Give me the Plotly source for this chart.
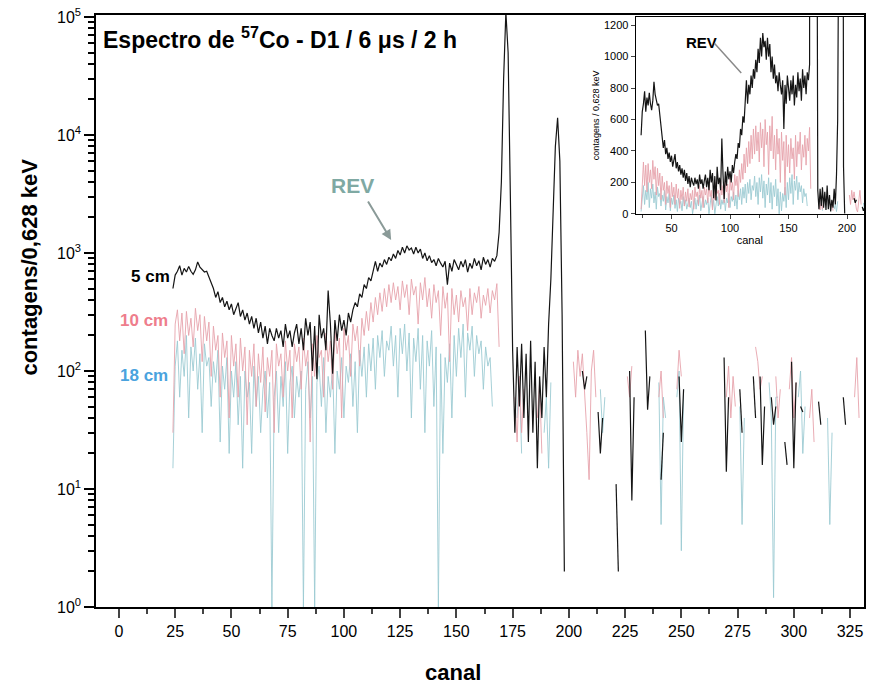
import plotly.graph_objects as go

N = None

# ---------------- data ----------------
# 5 cm, channels 24..168
black_start = 24
black_low = [500, 650, 700, 780, 650, 740, 690, 770, 700, 660, 720, 840, 760, 720, 690, 700,
             620, 560, 500, 420, 470, 380, 420, 350, 390, 330, 370, 300, 340, 380, 290, 330,
             270, 310, 250, 290, 230, 280, 210, 260, 190, 240, 170, 230, 200, 180, 230, 190,
             220, 160, 250, 190, 220, 160, 210, 250, 170, 230, 150, 280, 200, 260, 100, 240,
             85, 300, 190, 230, 150, 480, 250, 95, 270, 180, 300, 220,
             270, 200, 310, 260, 330, 380, 350, 450, 420, 540, 500, 620, 580, 720, 850, 700,
             820, 760, 880, 800, 920, 860, 980, 900, 1050, 960, 1120, 1000, 1150, 1060, 1100, 980,
             1120, 1000, 1080, 900, 1000, 860, 950, 830, 880, 780, 900, 820, 760, 850, 540, 820,
             700, 880, 800, 720, 850, 760, 880, 690, 820, 740, 900, 780, 860, 720, 920, 800,
             880, 760, 900, 850, 950]
# 5 cm, channels 169..198 (photopeaks)
peak_start = 169
black_peak = [1500, 4000, 30000, 110000, 50000, 3000, 150, 30, 160, 50, 170, 40, 140, 25, 180,
              30, 120, 15, 90, 40, 160, 60, 250, 600, 2000, 8000, 14000, 6000, 300, 2]
# 5 cm, scattered segments above channel 200
black_tail_ch = [206, 207, 208, N, 213, 214, 215, N, 221, 222, N, 227, 228, 229, N, 234, 235, 236, N,
                 241, 242, N, 249, 250, 251, N, 269, 270, 271, N, 276, 277, N, 282, 283, N,
                 285, 286, 287, N, 290, 291, 292, N, 296, 297, N, 299, 300, 301, N, 303, 304, N,
                 311, 312, N, 322, 323]
black_tail_val = [100, 70, 90, N, 45, 20, 40, N, 11, 2, N, 100, 8, 60, N, 220, 47, 90, N,
                  12, 30, N, 90, 25, 70, N, 130, 14, 60, N, 70, 30, N, 90, 40, N,
                  90, 16, 50, N, 60, 35, 50, N, 25, 16, N, 120, 15, 80, N, 50, 45, N,
                  55, 35, N, 60, 35]

# 10 cm, channels 24..169
red_start = 24
red_low = [30, 250, 330, 180, 310, 140, 320, 200, 280, 160, 340, 220, 300, 120, 290, 180,
           260, 90, 240, 150, 200, 60, 210, 130, 180, 40, 200, 110, 170, 60, 190, 100,
           160, 35, 150, 90, 170, 50, 140, 80, 160, 45, 130, 90, 150, 30, 170, 110,
           140, 60, 180, 100, 150, 40, 170, 120, 160, 70, 190, 110, 150, 25, 170, 90,
           200, 130, 150, 60, 210, 120, 180, 70, 220, 140, 190, 40, 230, 150, 200, 90,
           250, 180, 240, 110, 280, 200, 320, 220, 380, 260, 420, 300, 460, 320, 500, 350,
           540, 380, 560, 400, 520, 330, 580, 420, 540, 300, 600, 440, 520, 250, 560, 400,
           620, 350, 500, 280, 540, 380, 480, 200, 520, 340, 460, 120, 500, 300, 440, 260,
           480, 350, 420, 220, 500, 300, 460, 380, 520, 280, 440, 360, 500, 310, 480, 400,
           550, 160]
red_tail_ch = [176, 177, 178, 179, 180, N, 186, 187, 188, N, 202, 203, 204, 205, 206, 207, 208,
               209, 210, 211, 212, N, 226, 227, 228, N, 240, 241, 242, N, 248, 249, 250, N,
               270, 271, 272, 273, 274, N, 283, 284, 285, 286, N, 292, 293, 294, N,
               298, 299, 300, 301, N, 307, 308, 309, N, 327, 328, 329]
red_tail_val = [60, 25, 90, 30, 70, N, 40, 80, 20, N, 120, 60, 150, 90, 140, 70, 30,
                12, 100, 150, 60, N, 90, 60, 110, N, 60, 100, 40, N, 70, 150, 90, N,
                60, 110, 40, 90, 50, N, 160, 120, 70, 90, N, 90, 40, 70, N,
                70, 130, 40, 80, N, 40, 70, 25, N, 60, 130, 40]

# 18 cm, channels 24..166
blue_start = 24
blue_low = [15, 110, 180, 60, 150, 90, 200, 40, 160, 100, 190, 70, 140, 30, 170, 110,
            130, 50, 120, 80, 150, 25, 110, 70, 130, 20, 100, 60, 120, 35, 90, 15,
            100, 60, 80, 20, 110, 50, 90, 30, 70, 100, 40, 80, 1, 60, 100, 30,
            90, 50, 120, 20, 80, 110, 40, 90, 60, 100, 1, 70, 120, 40, 90, 1,
            80, 110, 50, 130, 30, 90, 60, 110, 20, 100, 70, 130, 40, 110, 80, 140,
            50, 120, 30, 150, 90, 160, 60, 170, 100, 190, 70, 200, 130, 220, 90, 180,
            150, 240, 110, 200, 60, 230, 140, 250, 100, 210, 40, 190, 120, 230, 70, 200,
            30, 180, 110, 220, 50, 160, 1, 140, 20, 130, 80, 170, 40, 200, 90, 230,
            130, 250, 60, 210, 150, 240, 90, 200, 140, 180, 70, 160, 110, 130, 50]
blue_tail_ch = [177, 178, 179, N, 189, 190, 191, 192, N, 214, 215, 216, N, 240, 241, 242, 243, N,
                248, 249, 250, 251, N, 276, 277, 278, N, 289, 290, 291, 292, 293, N,
                302, 303, 304, 305, N, 315, 316, 317]
blue_tail_val = [40, 90, 20, N, 30, 60, 15, 80, N, 70, 30, 60, N, 80, 5, 60, 40, N,
                 60, 100, 3, 70, N, 50, 5, 40, N, 80, 40, 1.2, 60, 60, N,
                 60, 100, 20, 50, N, 40, 5, 30]

x_ticks = [0, 25, 50, 75, 100, 125, 150, 175, 200, 225, 250, 275, 300, 325]
y_ticks = [1, 10, 100, 1000, 10000, 100000]
y_ticktext = ["10<sup>0</sup>", "10<sup>1</sup>", "10<sup>2</sup>", "10<sup>3</sup>",
              "10<sup>4</sup>", "10<sup>5</sup>"]
inset_x_ticks = [50, 100, 150, 200]
inset_y_ticks = [0, 200, 400, 600, 800, 1000, 1200]

# ---------------- build series ----------------
def series(start, low, tail_ch, tail_val, extra_start=None, extra=None):
    xs = list(range(start, start + len(low)))
    ys = list(low)
    if extra is not None:
        xs += list(range(extra_start, extra_start + len(extra)))
        ys += list(extra)
    xs += [N] + tail_ch
    ys += [N] + tail_val
    return xs, ys

bx, by = series(black_start, black_low, black_tail_ch, black_tail_val, peak_start, black_peak)
rx, ry = series(red_start, red_low, red_tail_ch, red_tail_val)
ux, uy = series(blue_start, blue_low, blue_tail_ch, blue_tail_val)

C_BLACK = "#151515"
C_RED = "#e6a3ab"
C_BLUE = "#9ccbd2"

fig = go.Figure()
for xa, ya in [("x", "y"), ("x2", "y2")]:
    fig.add_trace(go.Scatter(x=ux, y=uy, mode="lines", line=dict(color=C_BLUE, width=0.9),
                             xaxis=xa, yaxis=ya, showlegend=False, connectgaps=False))
    fig.add_trace(go.Scatter(x=rx, y=ry, mode="lines", line=dict(color=C_RED, width=0.9),
                             xaxis=xa, yaxis=ya, showlegend=False, connectgaps=False))
    fig.add_trace(go.Scatter(x=bx, y=by, mode="lines", line=dict(color=C_BLACK, width=1.2),
                             xaxis=xa, yaxis=ya, showlegend=False, connectgaps=False))

FONT = "Liberation Sans, Arial, sans-serif"

fig.update_layout(
    width=869, height=689,
    margin=dict(l=96, r=3, t=15, b=82),
    paper_bgcolor="white", plot_bgcolor="white",
    font=dict(family=FONT, color="black"),
    xaxis=dict(range=[-10.2, 331.2], tickvals=x_ticks, ticks="outside", ticklen=9, tickwidth=1.5,
               tickfont=dict(size=16), showgrid=False, zeroline=False,
               showline=True, linecolor="black", linewidth=1.5, mirror=True,
               minor=dict(ticks="outside", ticklen=5, tickwidth=1.5, dtick=12.5, tick0=0)),
    yaxis=dict(type="log", range=[0, 5.017], tickmode="array", tickvals=y_ticks,
               ticktext=y_ticktext, tickfont=dict(size=16),
               ticks="outside", ticklen=10, tickwidth=2, tickcolor="black",
               showgrid=False, zeroline=False,
               showline=True, linecolor="black", linewidth=1.5, mirror=True,
               minor=dict(ticks="outside", ticklen=6, tickwidth=1.5, tickcolor="black",
                          dtick="D1", showgrid=False)),
    xaxis2=dict(domain=[0.7026, 1.0], anchor="y2", range=[19.3, 214.5], tickvals=inset_x_ticks,
                ticks="outside", ticklen=4, tickfont=dict(size=11), showgrid=False, zeroline=False,
                showline=True, linecolor="black", linewidth=1, mirror=True,
                minor=dict(ticks="outside", ticklen=3, dtick=25, tick0=0),
                title=dict(text="canal", font=dict(size=11), standoff=2)),
    yaxis2=dict(domain=[0.664, 0.997], anchor="x2", range=[0, 1253], tickvals=inset_y_ticks,
                ticks="outside", ticklen=4, tickfont=dict(size=11), showgrid=False, zeroline=False,
                showline=True, linecolor="black", linewidth=1, mirror=True,
                title=dict(text="contagens / 0,628 keV", font=dict(size=9), standoff=2)),
)

annotations = [
    dict(text="<b>Espectro de <sup>57</sup>Co - D1 / 6 \u03bcs / 2 h</b>", xref="paper", yref="paper",
         x=0.006, y=0.961, xanchor="left", yanchor="middle", showarrow=False,
         font=dict(size=23, family=FONT, color="black")),
    dict(text="<b>contagens/0,628 keV</b>", xref="paper", yref="paper", x=-0.086, y=0.575,
         textangle=-90, xanchor="center", yanchor="middle", showarrow=False,
         font=dict(size=22, family=FONT, color="black")),
    dict(text="<b>canal</b>", xref="paper", yref="paper", x=0.465, y=-0.11,
         xanchor="center", yanchor="middle", showarrow=False,
         font=dict(size=22, family=FONT, color="black")),
    dict(text="<b>5 cm</b>", xref="x", yref="y", x=23.5, y=2.8, xanchor="right", yanchor="middle",
         showarrow=False, font=dict(size=17, family=FONT, color="black")),
    dict(text="<b>10 cm</b>", xref="x", yref="y", x=22.6, y=2.43, xanchor="right", yanchor="middle",
         showarrow=False, font=dict(size=17, family=FONT, color="#ee7d8c")),
    dict(text="<b>18 cm</b>", xref="x", yref="y", x=22.6, y=1.96, xanchor="right", yanchor="middle",
         showarrow=False, font=dict(size=17, family=FONT, color="#4aa3de")),
    dict(text="<b>REV</b>", xref="x", yref="y", x=103.8, y=3.57, xanchor="center", yanchor="middle",
         showarrow=False, font=dict(size=21, family=FONT, color="#7fa9a3")),
    dict(text="", xref="x", yref="y", x=121, y=3.11, ax=-24, ay=-40, showarrow=True,
         arrowhead=2, arrowsize=1, arrowwidth=2, arrowcolor="#8a9a98"),
    dict(text="<b>REV</b>", xref="x2", yref="y2", x=76, y=1090, xanchor="center", yanchor="middle",
         showarrow=False, font=dict(size=15, family=FONT, color="black")),
    dict(text="", xref="x2", yref="y2", x=109.6, y=895, ax=-28, ay=-31, showarrow=True,
         arrowhead=0, arrowwidth=1.5, arrowcolor="#8a8a8a"),
]
fig.update_layout(annotations=annotations)

fig.write_html("out.html")
